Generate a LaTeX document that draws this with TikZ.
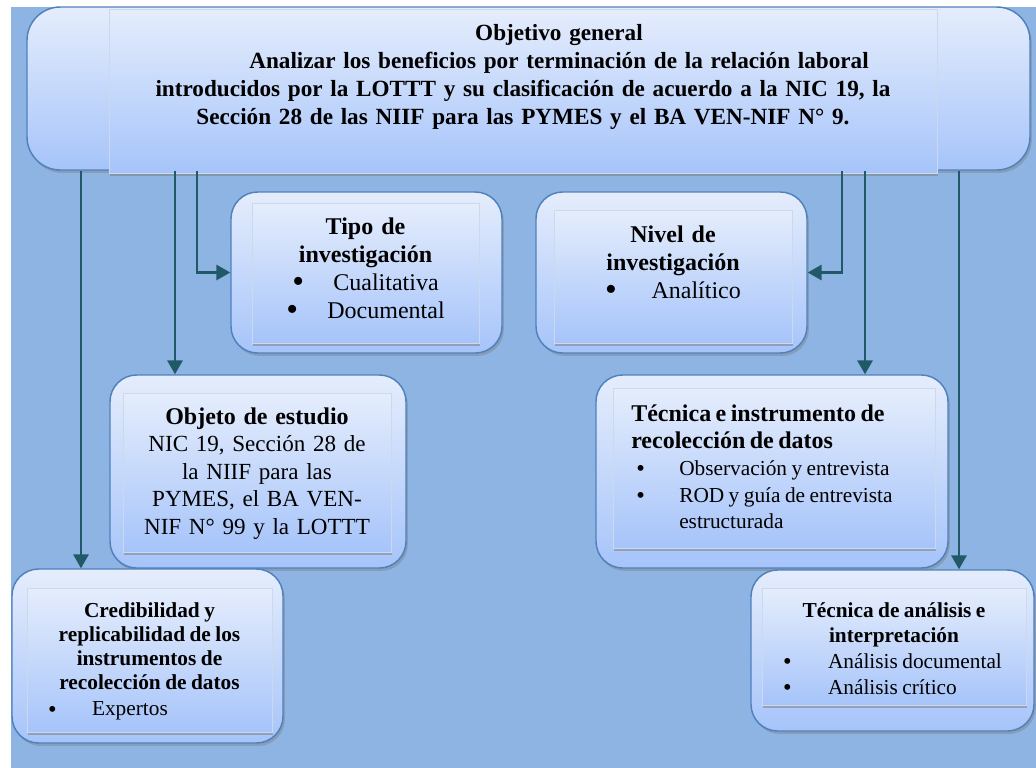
\documentclass[tikz,border=0pt]{standalone}
\usepackage{fontspec}
\setmainfont{Liberation Serif}
\usetikzlibrary{arrows.meta,shadows}
\definecolor{fondoazul}{RGB}{142,180,227}
\definecolor{bordeazul}{RGB}{79,129,189}
\definecolor{cajaclara}{RGB}{229,237,252}
\definecolor{cajaoscura}{RGB}{166,196,250}
\definecolor{flechaverde}{RGB}{33,89,104}
\newcommand{\vineta}[1][1.4]{\raisebox{-0.15ex}{\scalebox{#1}{•}}}
\tikzset{
  marco/.style={draw=bordeazul, line width=1.1pt, rounded corners=20pt, top color=cajaclara, bottom color=cajaoscura,
    inner sep=0pt, drop shadow={shadow xshift=1.4pt, shadow yshift=-2.2pt, opacity=0.45}},
  panel/.style={draw=bordeazul!30, line width=0.4pt, top color=cajaclara, bottom color=cajaoscura,
    drop shadow={shadow xshift=0.9pt, shadow yshift=-2pt, opacity=0.55}},
  texto/.style={inner sep=0pt, anchor=north},
  enlace/.style={flechaverde, line width=1.7pt, -{Triangle[width=11.5pt,length=10.5pt]}}
}

\begin{document}
\begin{tikzpicture}[x=0.75pt,y=-0.75pt]
  \useasboundingbox (0,0) rectangle (1036,768);
  \fill[fondoazul] (11,7) rectangle (1036,768);

  % marcos redondeados
  \node[marco, rounded corners=25pt, minimum width=752.25pt, minimum height=122.25pt] (objframe) at (528.5,88.5) {};
  \node[marco, minimum width=203.25pt, minimum height=120.75pt] (tipo) at (366.5,272.5) {};
  \node[marco, minimum width=203.25pt, minimum height=120.75pt] (nivel) at (671.5,272.5) {};
  \node[marco, minimum width=222pt, minimum height=144.75pt] (objeto) at (258,471.5) {};
  \node[marco, minimum width=264pt, minimum height=144.75pt] (tecnica) at (772,471.5) {};
  \node[marco, minimum width=203.25pt, minimum height=130.5pt] (cred) at (147.5,656) {};
  \node[marco, minimum width=212.25pt, minimum height=120.75pt] (analisis) at (892.5,650.5) {};

  % paneles interiores
  \path[panel] (109,9) rectangle (937,173);
  \path[panel] (252,203) rectangle (479,343);
  \path[panel] (554,210) rectangle (792,343);
  \path[panel] (123,393) rectangle (391,552);
  \path[panel] (613,388) rectangle (935,548);
  \path[panel] (27,588) rectangle (272,732);
  \path[panel] (762,588) rectangle (1026,705);

  % textos
  \node[texto, text width=621pt, font=\fontsize{17.4}{21}\selectfont\bfseries] (objtxt) at (523,24)
    {\centering\hspace*{54pt}Objetivo general\\
     \hspace*{54pt}Analizar los beneficios por terminación de la relación laboral\\
     introducidos por la LOTTT y su clasificación de acuerdo a la NIC 19, la\\
     Sección 28 de las NIIF para las PYMES y el BA VEN-NIF N° 9.\par};
  \node[texto, text width=170pt, font=\fontsize{18}{21}\selectfont] (tipotxt) at (365.5,217.5)
    {\centering\textbf{Tipo de}\\ \textbf{investigación}\\
     \vineta\hspace{22pt}Cualitativa\\ \vineta\hspace{22pt}Documental\par};
  \node[texto, text width=178pt, font=\fontsize{18}{21}\selectfont] (niveltxt) at (673,225.5)
    {\centering\textbf{Nivel de}\\ \textbf{investigación}\\ \vineta\hspace{26pt}Analítico\par};
  \node[texto, text width=201pt, font=\fontsize{17.3}{20.6}\selectfont] (objetotxt) at (257,407.5)
    {\centering{\fontsize{18}{20.6}\selectfont\bfseries Objeto de estudio}\\ NIC 19, Sección 28 de\\ la NIIF para las\\
     PYMES, el BA VEN-\\ NIF N° 99 y la LOTTT\par};
  \node[texto, anchor=north west, text width=225pt] (tecnicatxt) at (631,404.5)
    {{\fontsize{18}{20.5}\selectfont\bfseries Técnica e instrumento de\\ recolección de datos\par}
     {\fontsize{16}{20}\selectfont
     \hspace*{3.75pt}\makebox[32.25pt][l]{\vineta[1.15]}Observación y entrevista\\
     \hspace*{3.75pt}\makebox[32.25pt][l]{\vineta[1.15]}ROD y guía de entrevista\\
     \hspace*{36pt}estructurada\par}};
  \node[texto, text width=183.75pt] (credtxt) at (149.5,602)
    {{\fontsize{16}{18}\selectfont\centering\bfseries Credibilidad y\\ replicabilidad de los\\
      instrumentos de\\ recolección de datos\par}
     {\fontsize{16}{20}\selectfont\hspace*{15.75pt}\makebox[33pt][l]{\vineta[1.15]}Expertos\par}};
  \node[texto, text width=198pt] (analisistxt) at (894,602)
    {{\fontsize{16}{19}\selectfont\centering\bfseries Técnica de análisis e\\ interpretación\par}
     {\fontsize{16}{19.5}\selectfont
     \hspace*{15.75pt}\makebox[33.75pt][l]{\vineta[1.15]}Análisis documental\\
     \hspace*{15.75pt}\makebox[33.75pt][l]{\vineta[1.15]}Análisis crítico\par}};

  % columnas de las flechas
  \coordinate (colcred) at (81,0);
  \coordinate (colobjeto) at (175,0);
  \coordinate (coltipo) at (197,0);
  \coordinate (colnivel) at (842,0);
  \coordinate (coltecnica) at (865,0);
  \coordinate (colanalisis) at (959,0);

  % flechas
  \draw[enlace] (objframe.south -| colcred) -- (cred.north -| colcred);
  \draw[enlace] (objframe.south -| colobjeto) -- (objeto.north -| colobjeto);
  \draw[enlace] (objframe.south -| coltipo) |- (tipo.west);
  \draw[enlace] (objframe.south -| colnivel) |- (nivel.east);
  \draw[enlace] (objframe.south -| coltecnica) -- (tecnica.north -| coltecnica);
  \draw[enlace] (objframe.south -| colanalisis) -- (analisis.north -| colanalisis);
\end{tikzpicture}
\end{document}
